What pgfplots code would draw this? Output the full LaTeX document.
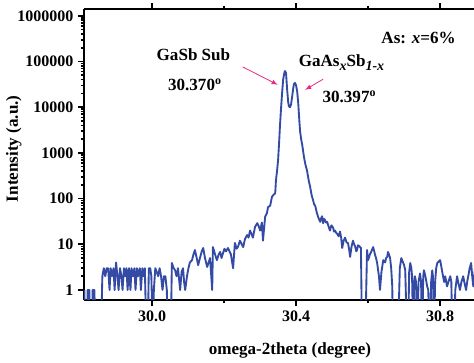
\documentclass[border=0pt]{standalone}
\usepackage{pgfplots}
\pgfplotsset{compat=1.18}
\usepackage{fontspec}
\setmainfont{Liberation Serif}
\definecolor{curve}{RGB}{52,75,165}
\definecolor{arrowc}{RGB}{235,40,130}
\newcommand{\tl}{\fontsize{12}{14}\selectfont\bfseries}
\pgfplotstableread{
x y
29.812 1
29.815 0.1
29.819 0.1
29.821 1
29.826 1
29.828 0.1
29.833 0.1
29.835 1
29.840 1
29.842 0.1
29.848 0.1
29.858 0.1
29.862 2
29.866 3
29.870 2
29.874 3
29.878 3
29.882 1
29.885 3
29.889 2
29.893 3
29.896 1
29.900 4
29.904 2
29.907 1
29.911 3
29.915 2
29.918 1
29.922 3
29.926 2
29.929 3
29.932 1
29.936 3
29.940 1
29.943 3
29.947 2
29.951 3
29.954 1
29.958 3
29.961 2
29.966 3
29.969 1
29.973 3
29.976 2
29.980 3
29.984 0.1
29.988 0.1
29.991 3
29.995 3
29.998 2
30.002 0.1
30.005 1
30.009 3
30.013 2.5
30.017 2
30.021 3
30.025 2
30.029 1
30.033 2
30.037 2
30.041 1
30.044 0.1
30.048 0.1
30.052 0.1
30.055 3.9
30.060 3
30.064 2.7
30.068 2
30.072 3
30.078 1
30.082 2.5
30.086 3
30.089 1.5
30.092 1
30.097 2
30.101 3
30.105 4
30.111 4.5
30.115 6
30.119 7.5
30.124 5
30.128 3.5
30.133 5
30.138 7
30.142 8.3
30.147 5
30.153 3.2
30.157 4
30.161 5
30.167 1
30.169 8.7
30.175 6
30.180 4.5
30.185 6
30.189 6.8
30.193 5
30.197 6.4
30.201 8
30.205 7
30.211 8.3
30.215 7
30.219 6
30.225 3
30.230 10.7
30.235 8
30.239 9
30.244 12
30.249 10
30.253 8.7
30.258 13
30.264 16
30.268 14
30.272 20
30.276 17
30.280 14
30.286 24
30.292 29
30.296 25
30.300 20
30.305 30
30.308 12
30.314 40
30.319 48
30.322 65
30.328 70
30.333 110
30.339 125
30.342 130
30.344 250
30.347 400
30.350 700
30.353 1800
30.355 3700
30.358 9000
30.361 20000
30.364 40000
30.367 55000
30.369 62000
30.372 56000
30.375 25000
30.378 13000
30.380 10500
30.383 10000
30.386 11500
30.389 17000
30.392 26000
30.394 32000
30.397 34000
30.400 30000
30.403 22000
30.406 12000
30.409 5000
30.411 3000
30.414 2000
30.417 1500
30.422 800
30.426 550
30.430 420
30.435 250
30.439 180
30.443 120
30.447 93
30.450 75
30.453 70
30.456 55
30.458 48
30.461 40
30.464 35
30.467 31
30.470 38
30.472 41
30.475 29
30.478 36
30.480 34
30.483 30
30.486 31
30.490 25
30.494 20
30.498 26
30.503 23
30.505 19
30.508 20
30.511 18
30.514 17
30.518 15
30.522 19
30.525 14
30.528 8.3
30.532 12
30.536 14
30.540 11
30.544 10.7
30.547 8
30.550 5.3
30.554 9
30.558 12
30.561 10
30.564 9
30.567 7
30.569 7.5
30.572 9.5
30.576 9
30.580 8.3
30.583 0.1
30.592 0.1
30.597 7.5
30.600 4.5
30.605 6
30.609 7
30.614 8.7
30.617 7
30.619 6
30.622 5
30.625 3.9
30.630 2
30.633 1
30.637 2.5
30.642 4.5
30.647 4
30.650 5
30.653 5.3
30.655 6.8
30.658 6
30.661 5
30.664 3
30.667 1.2
30.669 0.1
30.683 0.1
30.688 3
30.692 5
30.697 4
30.700 3.5
30.703 2.7
30.708 0.1
30.711 0.1
30.714 2.5
30.717 3.9
30.720 3
30.722 2
30.725 0.1
30.728 1.5
30.730 2
30.733 1.5
30.736 0.1
30.740 1.5
30.744 2.3
30.747 1.5
30.750 0.1
30.753 2
30.755 2.7
30.759 2
30.764 1.2
30.767 1
30.770 0.1
30.772 0.1
30.775 1.5
30.778 2.7
30.780 2
30.783 0.1
30.786 1.5
30.789 3
30.792 3.9
30.796 4.2
30.800 4.5
30.804 3
30.808 2
30.811 1.5
30.814 2
30.817 1.5
30.819 1.2
30.823 1.5
30.828 2
30.831 1.5
30.834 0.1
30.839 0.1
30.842 1
30.847 2
30.850 1.5
30.855 1
30.859 1.5
30.864 2
30.867 1.5
30.872 1
30.875 1.5
30.878 2
30.882 3
30.886 3.9
30.889 2
30.892 1.2
30.897 3
}\datatable
\begin{document}
\begin{tikzpicture}
\begin{axis}[
  scale only axis, width=292.5pt, height=218.25pt,
  xmin=29.811, xmax=30.894,
  ymode=log, ymin=0.604, ymax=1.41e6,
  axis x line*=box, axis y line*=left,
  axis line style={line width=1.4pt},
  every tick/.style={black, line width=1.2pt},
  tick align=outside,
  major tick length=4.5pt, minor tick length=2.5pt,
  xtick={30.0,30.4,30.8},
  xticklabels={\hbox{\tl 30.0},\hbox{\tl 30.4},\hbox{\tl 30.8}},
  minor xtick={30.2,30.6},
  ytick={1,10,100,1000,10000,100000,1000000},
  yticklabels={\hbox{\tl 1},\hbox{\tl 10},\hbox{\tl 100},\hbox{\tl 1000},\hbox{\tl 10000},\hbox{\tl 100000},\hbox{\tl 1000000}},
  ytick pos=left,
  xlabel={omega-2theta (degree)},
  ylabel={Intensity (a.u.)},
  label style={font=\fontsize{12.8}{14}\selectfont\bfseries},
  xlabel style={at={(axis description cs:0.528,-0.172)}, anchor=center},
  ylabel style={at={(axis description cs:-0.180,0.52)}, anchor=center},
  clip=true,
]
\addplot[curve, line width=1.4pt, line join=round, mark=none] table {\datatable};
\node[font=\fontsize{12.8}{14}\selectfont\bfseries] at (axis cs:30.115,1.38e5) {GaSb Sub};
\node[font=\fontsize{12.8}{14}\selectfont\bfseries] at (axis cs:30.119,3.1e4) {30.370\textsuperscript{o}};
\node[font=\fontsize{12.8}{14}\selectfont\bfseries] at (axis cs:30.526,9.4e4) {GaAs\raisebox{-0.55ex}{\fontsize{10.5}{12}\selectfont\itshape x}Sb\raisebox{-0.55ex}{\fontsize{10.5}{12}\selectfont\itshape 1-x}};
\node[font=\fontsize{12.8}{14}\selectfont\bfseries] at (axis cs:30.548,1.67e4) {30.397\textsuperscript{o}};
\node[font=\fontsize{12.8}{14}\selectfont\bfseries] at (axis cs:30.74,3.27e5) {As: \textit{x}=6\%};
\draw[arrowc, line width=0.6pt, -latex] (axis cs:30.252,7.6e4) -- (axis cs:30.349,3.1e4);
\draw[arrowc, line width=0.6pt, -latex] (axis cs:30.475,4.1e4) -- (axis cs:30.425,2.4e4);
\coordinate (SW) at (rel axis cs:0,0);
\coordinate (NE) at (rel axis cs:1,1);
\end{axis}
\pgfresetboundingbox
\useasboundingbox ([shift={(-63pt,-47.25pt)}]SW) rectangle ([shift={(0pt,6.75pt)}]NE);
\end{tikzpicture}
\end{document}
